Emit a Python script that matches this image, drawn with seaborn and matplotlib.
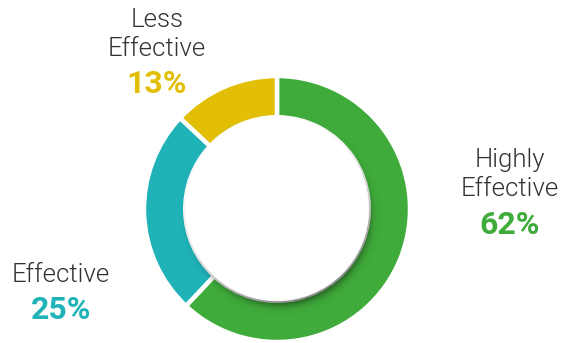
import numpy as np
import matplotlib
matplotlib.use("Agg")
import matplotlib.pyplot as plt
import seaborn as sns
from matplotlib.patches import Circle

# Survey results
categories = ["Highly\nEffective", "Effective", "Less\nEffective"]
shares = [62, 25, 13]
colors = ["#3fab3a", "#1fb3b8", "#e2bf05"]

sns.set_theme(style="white")
plt.rcParams["font.family"] = ["Roboto", "DejaVu Sans"]

W, H, DPI = 567, 343, 100
fig = plt.figure(figsize=(W / DPI, H / DPI), dpi=DPI)
ax = fig.add_axes([0, 0, 1, 1])

# Pixel layout: ring centre and outer radius
cx, cy, R = 277.0, 209.0, 133.0
inner = 0.69

ax.pie(shares, colors=colors, startangle=90, counterclock=False, radius=1.0,
       wedgeprops=dict(width=1 - inner, edgecolor="white", linewidth=3.2))
ax.axis("off")

# Soft drop shadow cast by the inner disc onto the ring
n = 600
xs = np.linspace(-1.05, 1.05, n)
X, Y = np.meshgrid(xs, xs)
off_x, off_y = 3.0 / R, -6.0 / R
shadow_r = inner - 2.0 / R
d = np.hypot(X - off_x, Y - off_y)
soft = 5.0 / R
alpha = 0.5 * (1 - np.tanh((d - shadow_r) / soft)) * 0.6
ring = np.hypot(X, Y) <= 1.0
alpha = np.where(ring, alpha, 0.0)
rgba = np.zeros((n, n, 4))
rgba[..., :3] = 0.05
rgba[..., 3] = alpha
ax.imshow(rgba, extent=(-1.05, 1.05, -1.05, 1.05), origin="lower", zorder=3,
          interpolation="bilinear")
ax.add_patch(Circle((0, 0), inner, facecolor="white", edgecolor="white",
                    linewidth=0.6, zorder=4))
ax.set_xlim(-cx / R, (W - cx) / R)
ax.set_ylim(-(H - cy) / R, cy / R)
ax.set_aspect("equal")


def px(x, y):
    return (x - cx) / R, (cy - y) / R


# Baseline of the first label line, then the percentage baseline
label_pos = [(509.5, 167), (61, 282), (157, 27)]
value_pos = [(509.5, 234), (61, 319), (157, 93)]
for cat, val, col, (lx, ly), (vx, vy) in zip(categories, shares, colors, label_pos, value_pos):
    lines = cat.split("\n")
    for i, line in enumerate(lines):
        tx, ty = px(lx, ly + 28.5 * i)
        ax.text(tx, ty, line, ha="center", va="baseline", fontsize=18.5,
                fontweight=300, color="#333333")
    tx, ty = px(vx, vy)
    ax.text(tx, ty, f"{val}%", ha="center", va="baseline", fontsize=23,
            fontweight="bold", color=col)

fig.savefig("out.png", dpi=DPI)
